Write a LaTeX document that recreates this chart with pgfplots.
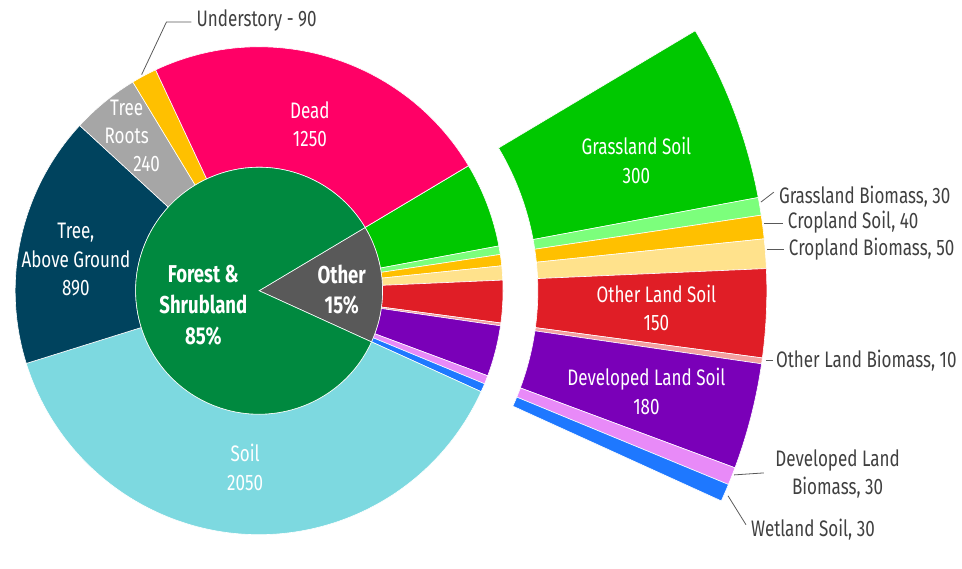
\documentclass[border=0pt]{standalone}
\usepackage{pgfplots}
\pgfplotsset{compat=1.18}
\usepackage{pgfplotstable}
\usepackage{fontspec}
\setmainfont{Fira Sans}[FakeStretch=0.76]

\definecolor{cGS}{HTML}{00C800}
\definecolor{cGB}{HTML}{7CFF7C}
\definecolor{cCS}{HTML}{FFC000}
\definecolor{cCB}{HTML}{FFE28C}
\definecolor{cOS}{HTML}{E01E26}
\definecolor{cOB}{HTML}{F4A0A0}
\definecolor{cDS}{HTML}{7A00B8}
\definecolor{cDB}{HTML}{E88AF8}
\definecolor{cWS}{HTML}{1E78FF}
\definecolor{cSoil}{HTML}{7DD9E0}
\definecolor{cTree}{HTML}{00435E}
\definecolor{cRoots}{HTML}{A6A6A6}
\definecolor{cUnder}{HTML}{FFC000}
\definecolor{cDead}{HTML}{FF0066}
\definecolor{cForest}{HTML}{00893F}
\definecolor{cOther}{HTML}{595959}
\definecolor{lbl}{HTML}{404040}
\definecolor{lead}{HTML}{595959}

% outer ring, clockwise from the top edge of "Other"
\pgfplotstableread{
value col
300 cGS
30 cGB
40 cCS
50 cCB
150 cOS
10 cOB
180 cDS
30 cDB
30 cWS
2050 cSoil
890 cTree
240 cRoots
90 cUnder
1250 cDead
}\ring

% inner pie
\pgfplotstableread{
value col
820 cOther
4520 cForest
}\inner

\newcommand\sector[5]{%
  \edef\tmp{\noexpand\fill[#5, draw=white, line width=0.6pt]
    (axis cs:{#3*cos(#1)},{#3*sin(#1)}) -- (axis cs:{#4*cos(#1)},{#4*sin(#1)})
    arc[start angle=#1, end angle=#2, radius=#4pt]
    -- (axis cs:{#3*cos(#2)},{#3*sin(#2)})
    arc[start angle=#2, end angle=#1, radius=#3pt] -- cycle;}\tmp}
\newcommand\pieslice[4]{%
  \edef\tmp{\noexpand\fill[#4, draw=white, line width=0.6pt]
    (axis cs:0,0) -- (axis cs:{#3*cos(#1)},{#3*sin(#1)})
    arc[start angle=#1, end angle=#2, radius=#3pt] -- cycle;}\tmp}

\tikzset{
  lab/.style={font=\fontsize{22.5}{28.5}\selectfont, align=center, inner sep=0pt},
  blab/.style={font=\fontsize{24.5}{31}\selectfont\bfseries, align=center, inner sep=0pt, text=white},
  ldr/.style={draw=lead, line width=0.8pt}}

\begin{document}
\begin{tikzpicture}
\begin{axis}[scale only axis, width=962pt, height=542pt,
  xmin=-256, xmax=706, ymin=-250, ymax=292, hide axis, clip=false]
\path (axis cs:-256,-250) rectangle (axis cs:706,292);

\xdef\angA{30.8}
\foreach \i in {0,...,13}{%
  \pgfplotstablegetelem{\i}{value}\of\ring \let\myval\pgfplotsretval
  \pgfplotstablegetelem{\i}{col}\of\ring \let\mycol\pgfplotsretval
  \pgfmathsetmacro\angB{\angA-(\myval/5340)*360}
  \sector{\angA}{\angB}{124}{245}{\mycol}
  \ifnum\i<9 \sector{\angA}{\angB}{280}{510}{\mycol}\fi
  \xdef\angA{\angB}
}
\xdef\angA{30.8}
\foreach \i in {0,1}{%
  \pgfplotstablegetelem{\i}{value}\of\inner \let\myval\pgfplotsretval
  \pgfplotstablegetelem{\i}{col}\of\inner \let\mycol\pgfplotsretval
  \pgfmathsetmacro\angB{\angA-(\myval/5340)*360}
  \pieslice{\angA}{\angB}{124}{\mycol}
  \xdef\angA{\angB}
}

% labels inside
\node[lab, text=white] at (axis cs:51,167.5) {Dead\\1250};
\node[lab, text=white] at (axis cs:-133,184) {Tree};
\node[lab, text=white] at (axis cs:-133,155) {Roots};
\node[lab, text=white] at (axis cs:-113,127) {240};
\node[lab, text=white] at (axis cs:-184,31) {Tree,\\Above Ground\\890};
\node[lab, text=white] at (axis cs:-14,-177.5) {Soil\\2050};
\node[lab, text=white] at (axis cs:379,131) {Grassland Soil\\300};
\node[lab, text=white] at (axis cs:399,-17) {Other Land Soil\\150};
\node[lab, text=white] at (axis cs:389,-101) {Developed Land Soil\\180};
\node[blab] at (axis cs:-56,-15) {Forest \&\\Shrubland\\85\%};
\node[blab] at (axis cs:83,1) {Other\\15\%};

% labels outside
\draw[ldr] (axis cs:-118,217) -- (axis cs:-93,270) -- (axis cs:-68,270);
\node[lab, text=lbl, anchor=west] at (axis cs:-63,271) {Understory - 90};
\draw[ldr] (axis cs:504,89) -- (axis cs:517,99);
\node[lab, text=lbl, anchor=west] at (axis cs:522,95) {Grassland Biomass, 30};
\draw[ldr] (axis cs:507,68) -- (axis cs:526,68);
\node[lab, text=lbl, anchor=west] at (axis cs:531,69) {Cropland Soil, 40};
\draw[ldr] (axis cs:510,42) -- (axis cs:527,42);
\node[lab, text=lbl, anchor=west] at (axis cs:532,42) {Cropland Biomass, 50};
\draw[ldr] (axis cs:509,-70) -- (axis cs:516,-70);
\node[lab, text=lbl, anchor=west] at (axis cs:519,-70) {Other Land Biomass, 10};
\draw[ldr] (axis cs:477,-185) -- (axis cs:507,-183);
\node[lab, text=lbl] at (axis cs:581,-184) {Developed Land\\Biomass, 30};
\draw[ldr] (axis cs:471,-206) -- (axis cs:489,-235);
\node[lab, text=lbl, anchor=west] at (axis cs:494,-240) {Wetland Soil, 30};
\end{axis}
\end{tikzpicture}
\end{document}
